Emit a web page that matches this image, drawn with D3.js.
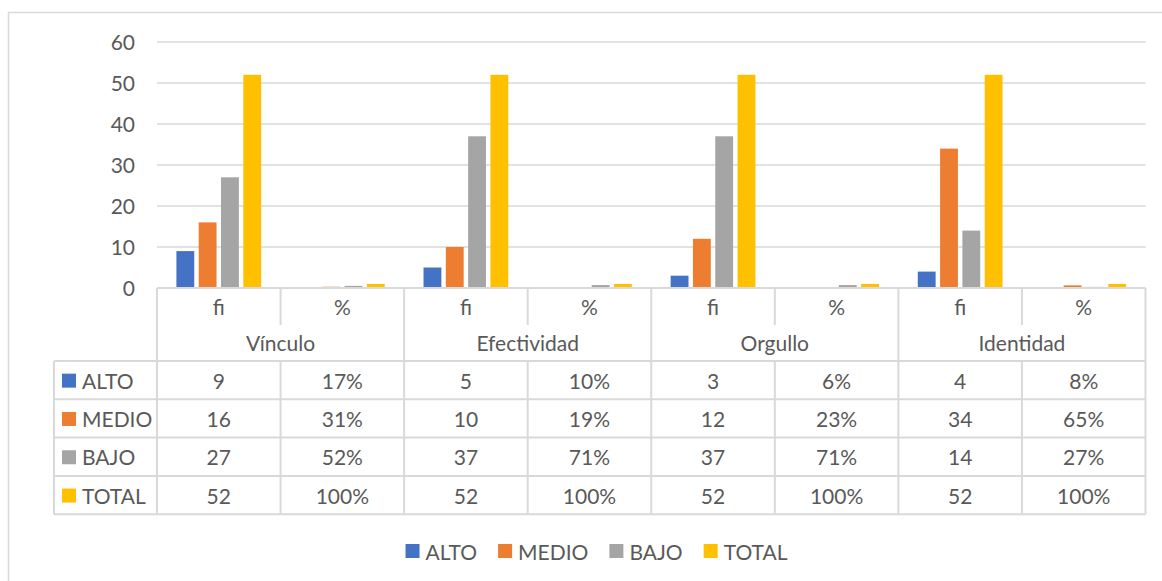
<!DOCTYPE html>
<html><head><meta charset="utf-8">
<script src="https://cdn.jsdelivr.net/npm/d3@7"></script>
<style>
html,body{margin:0;padding:0;background:#fff;}
svg{display:block;}
text{font-family:Lato,"Open Sans",sans-serif;fill:#595959;}
</style></head>
<body>
<svg id="c" width="1162" height="581"></svg>
<script>
const groups = ["Vínculo","Efectividad","Orgullo","Identidad"];
const subCats = ["fi","%"];
const seriesNames = ["ALTO","MEDIO","BAJO","TOTAL"];
const colors = ["#4472C4","#ED7D31","#A5A5A5","#FFC000"];
const fiAlto  = [9,5,3,4];
const fiMedio = [16,10,12,34];
const fiBajo  = [27,37,37,14];
const fiTotal = [52,52,52,52];
const pctAlto  = [0.17,0.10,0.06,0.08];
const pctMedio = [0.31,0.19,0.23,0.65];
const pctBajo  = [0.52,0.71,0.71,0.27];
const pctTotal = [1,1,1,1];
const yTicks = [0,10,20,30,40,50,60];

const fiSeries = [fiAlto, fiMedio, fiBajo, fiTotal];
const pctSeries = [pctAlto, pctMedio, pctBajo, pctTotal];

const cats = [];
groups.forEach((g,gi)=>subCats.forEach((s,si)=>cats.push({g,gi,s,si,key:g+"|"+s})));

const svg = d3.select("#c");
const W=1162,H=581;
const L=157, R=1145.5, T=42, B=288;
const grid="#d9d9d9";
const FS=21;

svg.append("rect").attr("x",8.5).attr("y",12.5).attr("width",W+10).attr("height",H+10)
  .attr("fill","none").attr("stroke",grid).attr("stroke-width",1.5);

const x0 = d3.scaleBand().domain(cats.map(c=>c.key)).range([L,R]).paddingInner(0).paddingOuter(0);
const x1 = d3.scaleBand().domain(seriesNames).range([0,x0.bandwidth()]).paddingInner(0.2).paddingOuter(0.87);
const y = d3.scaleLinear().domain([0,60]).range([B,T]);

svg.append("g").selectAll("line").data(yTicks.filter(t=>t>0)).join("line")
  .attr("x1",L).attr("x2",R).attr("y1",d=>y(d)).attr("y2",d=>y(d))
  .attr("stroke",grid).attr("stroke-width",1.5);

const yAxis = svg.append("g").attr("transform",`translate(${L-22},0)`)
  .call(d3.axisLeft(y).tickValues(yTicks).tickSize(0).tickPadding(0));
yAxis.select(".domain").remove();
yAxis.selectAll("text").attr("font-size",FS).attr("fill","#595959")
  .style("font-family","Lato,'Open Sans',sans-serif").attr("dy","0.35em");

const barData=[];
cats.forEach(c=>{
  seriesNames.forEach((s,si)=>{
    const v = c.s==="fi" ? fiSeries[si][c.gi] : pctSeries[si][c.gi];
    barData.push({c,s,si,v});
  });
});
svg.append("g").selectAll("rect").data(barData).join("rect")
  .attr("x",d=>x0(d.c.key)+x1(d.s))
  .attr("width",x1.bandwidth())
  .attr("y",d=>y(d.v))
  .attr("height",d=>y(0)-y(d.v))
  .attr("fill",d=>colors[d.si]);

const rowH = 38.3;
const dataRowTop = 361;
const tableL = 54;
const tg = svg.append("g");
const ln=(x1_,y1_,x2_,y2_)=>tg.append("line").attr("x1",x1_).attr("y1",y1_).attr("x2",x2_).attr("y2",y2_)
  .attr("stroke",grid).attr("stroke-width",2);
const tableBottom = dataRowTop + rowH*4;
ln(L,B,R,B);
for(let i=0;i<=4;i++) ln(tableL,dataRowTop+rowH*i,R,dataRowTop+rowH*i);
ln(tableL,dataRowTop,tableL,tableBottom);
cats.forEach((c,i)=>{
  const xl = x0(c.key);
  if(c.si===0){ ln(xl,B,xl,tableBottom); }
  else { ln(xl,B,xl,325); ln(xl,dataRowTop,xl,tableBottom); }
});
ln(R,B,R,tableBottom);

const txt=(x,yv,s,anchor)=>tg.append("text").attr("x",x).attr("y",yv).attr("text-anchor",anchor||"middle")
  .attr("dominant-baseline","central").attr("font-size",FS).text(s);

cats.forEach(c=>txt(x0(c.key)+x0.bandwidth()/2,306,c.s));
groups.forEach((g,gi)=>{
  const xa = x0(g+"|fi"), xb = x0(g+"|%")+x0.bandwidth();
  txt((xa+xb)/2,342,g);
});
const fmtPct = d3.format(".0%");
seriesNames.forEach((s,si)=>{
  const cy = dataRowTop+rowH*si+rowH/2;
  tg.append("rect").attr("x",62).attr("y",cy-6.5).attr("width",14).attr("height",14).attr("fill",colors[si]);
  txt(82,cy,s,"start");
  cats.forEach(c=>{
    const v = c.s==="fi" ? fiSeries[si][c.gi] : pctSeries[si][c.gi];
    txt(x0(c.key)+x0.bandwidth()/2,cy,c.s==="fi"?String(v):fmtPct(v));
  });
});

const lg = svg.append("g");
let cx=0;
seriesNames.forEach((s,si)=>{
  const g=lg.append("g");
  g.append("rect").attr("x",0).attr("y",-7).attr("width",14).attr("height",14).attr("fill",colors[si]);
  const t=g.append("text").attr("x",20).attr("y",0).attr("dominant-baseline","central").attr("font-size",FS).text(s);
  const w=20+t.node().getComputedTextLength();
  g.attr("transform",`translate(${cx},0)`);
  cx+=w+21;
});
const total=cx-21;
lg.attr("transform",`translate(${(410+783)/2-total/2},551)`);
</script>
</body></html>
